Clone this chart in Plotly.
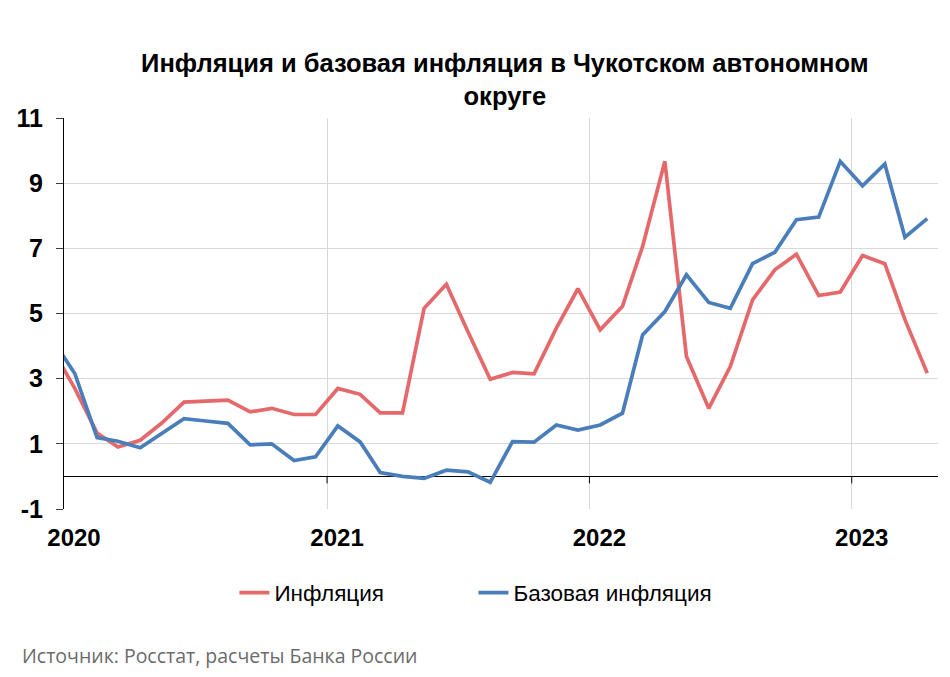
import pandas as pd
import plotly.graph_objects as go

# monthly values, Dec 2019 .. Apr 2023 (first point sits just left of the axis)
months = pd.date_range("2019-12-01", "2023-04-01", freq="MS") + pd.Timedelta(days=15)

inflation = [3.9,
             2.7, 1.33, 0.90, 1.11, 1.64, 2.28, 2.32, 2.34, 1.98, 2.09, 1.90, 1.90,
             2.70, 2.52, 1.95, 1.95, 5.16, 5.90, 4.44, 2.98, 3.19, 3.15, 4.55, 5.76,
             4.50, 5.22, 7.06, 9.67, 3.68, 2.09, 3.37, 5.42, 6.34, 6.82, 5.55, 5.66,
             6.78, 6.53, 4.81, 3.17]
core_inflation = [4.2,
                  3.16, 1.19, 1.08, 0.88, 1.33, 1.77, 1.70, 1.63, 0.97, 1.00, 0.49, 0.60,
                  1.55, 1.06, 0.12, 0.00, -0.06, 0.19, 0.14, -0.18, 1.07, 1.05, 1.58, 1.42,
                  1.58, 1.94, 4.34, 5.06, 6.19, 5.34, 5.16, 6.53, 6.88, 7.88, 7.96, 9.67,
                  8.92, 9.59, 7.34, 7.91]

year_ticks = ["2020-01-01", "2021-01-01", "2022-01-01", "2023-01-01"]
year_labels = ["2020", "2021", "2022", "2023"]
y_ticks = [-1, 1, 3, 5, 7, 9, 11]
y_labels = ["-1", "1", "3", "5", "7", "9", "11"]

RED = "#E5686B"
BLUE = "#4A7EBB"
FONT = "Liberation Sans"

fig = go.Figure()
fig.add_trace(go.Scatter(x=months, y=inflation, mode="lines", name="Инфляция",
                         line=dict(color=RED, width=3.7)))
fig.add_trace(go.Scatter(x=months, y=core_inflation, mode="lines", name="Базовая инфляция",
                         line=dict(color=BLUE, width=3.7)))

# small tick marks hanging from the zero line at year boundaries
for t in year_ticks[1:]:
    fig.add_shape(type="line", xref="x", yref="y", x0=t, x1=t,
                  ysizemode="pixel", yanchor=0, y0=0, y1=-7,
                  line=dict(color="black", width=1))

fig.update_layout(
    width=950, height=677,
    paper_bgcolor="white", plot_bgcolor="white",
    margin=dict(l=56, r=20, t=110, b=176, autoexpand=False),
    font=dict(family=FONT, color="black"),
    title=dict(text="Инфляция и базовая инфляция в Чукотском автономном<br>округе",
               x=0.523, xanchor="center", xref="container",
               y=1 - 64 / 677, yanchor="top", yref="container",
               font=dict(family=FONT, size=25.5, weight="bold", color="black")),
    showlegend=True,
    legend=dict(orientation="h", x=0.195, xanchor="left", y=-0.215, yanchor="middle",
                font=dict(family=FONT, size=22.5, color="black"),
                entrywidth=194, bgcolor="rgba(0,0,0,0)"),
    annotations=[dict(text="Источник: Росстат, расчеты Банка России",
                      xref="paper", yref="paper", x=-44 / 874, y=(509 - 655) / 391,
                      xanchor="left", yanchor="middle", showarrow=False,
                      font=dict(family="Open Sans", size=19.5, color="#6b6b6b"))],
)

fig.update_xaxes(type="date", range=["2020-01-01", "2023-05-01"],
                 tickvals=year_ticks, ticktext=year_labels,
                 showgrid=True, gridcolor="#d9d9d9", gridwidth=1,
                 showline=False, zeroline=False, ticks="", automargin=False,
                 ticklabelshift=10, ticklabelstandoff=12,
                 tickfont=dict(family=FONT, size=24, weight="bold", color="black"))
fig.update_yaxes(range=[-1, 11], tickvals=y_ticks, ticktext=y_labels,
                 showgrid=True, gridcolor="#d9d9d9", gridwidth=1,
                 zeroline=True, zerolinecolor="black", zerolinewidth=1,
                 showline=True, linecolor="black", linewidth=1,
                 ticks="outside", ticklen=7, tickcolor="#404040", automargin=False,
                 ticklabelstandoff=8,
                 tickfont=dict(family=FONT, size=25, weight="bold", color="black"))

fig.write_html("out.html")
